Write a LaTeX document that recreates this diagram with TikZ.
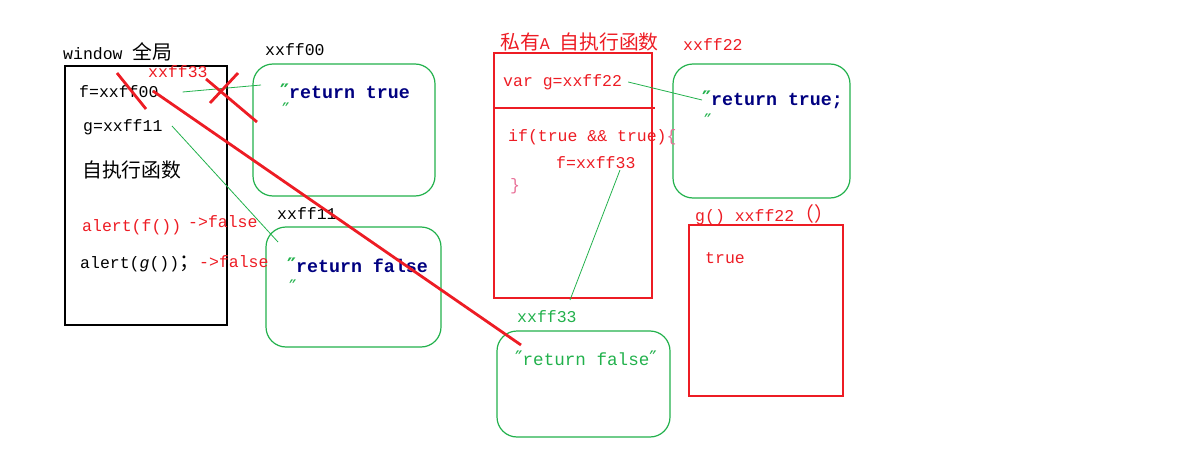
\documentclass[tikz,border=0pt]{standalone}
\usepackage{fontspec}
\setmainfont{Liberation Serif}
\setmonofont{Liberation Mono}
\newfontfamily\cjk{Noto Sans CJK SC}
\newfontfamily\quotefont{DejaVu Sans}
\definecolor{paintred}{RGB}{237,28,36}
\definecolor{paintgreen}{RGB}{34,177,76}
\definecolor{codeblue}{RGB}{0,0,128}
\definecolor{bracepink}{RGB}{232,110,150}
\tikzset{
	code/.style      = {anchor=west, inner sep=0pt, font=\ttfamily\fontsize{16.5}{18}\selectfont},
	boldcode/.style  = {code, text=codeblue, font=\ttfamily\bfseries\fontsize{18.3}{20}\selectfont},
	scopebox/.style  = {draw, line width=1.4pt, inner sep=0pt},
	membox/.style    = {draw=paintgreen, line width=1.2pt, rounded corners=20pt, inner sep=0pt},
	link/.style      = {paintgreen, line width=0.8pt},
	strike/.style    = {paintred, line width=2.8pt}
}
\newcommand{\zh}[1]{{\cjk\fontsize{19.8}{22}\selectfont #1}}
\newcommand{\dq}{{\quotefont\fontsize{20}{22}\selectfont\color{paintgreen}″}}

\begin{document}
\begin{tikzpicture}[x=1pt, y=-1pt]
	\useasboundingbox (0,0) rectangle (1200,460);

	% boxes
	\draw
	node at (146,195.5) [scopebox, minimum width=162pt, minimum height=259pt] (win) {}
	node at (344,130) [membox, minimum width=182pt, minimum height=132pt] (m00) {}
	node at (353.5,287) [membox, minimum width=175pt, minimum height=120pt] (m11) {}
	node at (573,175.5) [scopebox, draw=paintred, minimum width=158pt, minimum height=245pt] (scopeA) {}
	node at (761.5,131) [membox, minimum width=177pt, minimum height=134pt] (m22) {}
	node at (583.5,384) [membox, minimum width=173pt, minimum height=106pt] (m33) {}
	node at (766,310.5) [scopebox, draw=paintred, minimum width=154pt, minimum height=171pt] (gcall) {};
	\draw[paintred, line width=1.4pt] (494,108) -- (655,108);

	% window
	\draw
	node at (63,52) [code] (winlabel) {window \zh{全局}}
	node at (148,72) [code, text=paintred] (x33) {xxff33}
	node at (79,92) [code] (f00) {f=xxff00}
	node at (83,127) [code] (g11) {g=xxff11}
	node at (82,170) [code] (selfrun) {\zh{自执行函数}}
	node at (82,227) [code, text=paintred] (alertf) {alert(f())}
	node at (188,222) [code, text=paintred] (resf) {->false}
	node at (80,264) [code] (alertg) {alert(\textit{g}())\zh{；}}
	node at (199,262) [code, text=paintred] (resg) {->false};

	% xxff00 / xxff11
	\draw
	node at (280,91) [boldcode] (rt00) {\dq return true}
	node at (265,50) [code] (l00) {xxff00}
	node at (282,110) [code] (q00) {\dq}
	node at (277,214) [code] (l11) {xxff11}
	node at (287,265) [boldcode] (rt11) {\dq return false}
	node at (289,287) [code] (q11) {\dq};

	% private A
	\draw
	node at (500,42) [code, text=paintred] (lA) {\zh{私有}A \zh{自执行函数}}
	node at (503,82) [code, text=paintred] (varg) {var g=xxff22}
	node at (508,137) [code, text=paintred] (ifc) {if(true \&\& true)\textcolor{bracepink}{\{}}
	node at (556,163) [code, text=paintred] (f33) {f=xxff33}
	node at (510,186) [code, text=bracepink] (close) {\}};

	% xxff22 / g() / xxff33
	\draw
	node at (683,45) [code, text=paintred] (l22) {xxff22}
	node at (702,100) [boldcode] (rt22) {\dq return true;}
	node at (704,121) [code] (q22) {\dq}
	node at (695,215) [code, text=paintred] (lg) {g() xxff22\zh{（）}}
	node at (705,258) [code, text=paintred] (tr) {true}
	node at (517,317) [code, text=paintgreen] (l33) {xxff33}
	node at (515,358) [code, text=paintgreen, font=\ttfamily\fontsize{17.6}{19}\selectfont] (rt33) {\dq return false\dq};

	\coordinate (e00) at (261,85);
	\coordinate (s11) at (172,126);
	\coordinate (e11) at (278,242);
	\coordinate (s33) at (620,170);
	\coordinate (e33) at (570,300);
	\draw[link] ([xshift=24pt]f00.east) -- (e00);
	\draw[link] (s11) -- (e11);
	\draw[link] ([xshift=6pt]varg.east) -- (rt22.west);
	\draw[link] (s33) -- (e33);

	% crossed out
	\draw[strike] (117,73) -- (146,109);
	\draw[strike] (238,73) -- (210,103);
	\draw[strike] (206,79) -- (257,122);
	\draw[strike] (153,91) -- (521,345);
\end{tikzpicture}
\end{document}
